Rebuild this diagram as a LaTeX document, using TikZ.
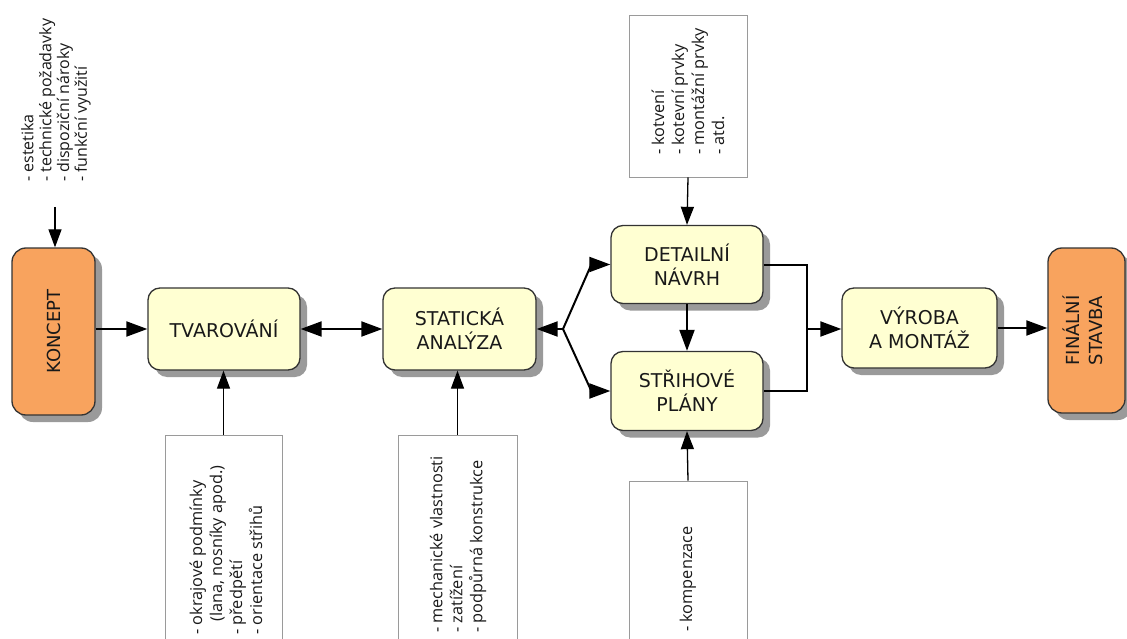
\documentclass[tikz,border=0pt]{standalone}
\usepackage{fontspec}
\setmainfont{DejaVu Sans}
\newfontfamily\notefont{Open Sans}
\usetikzlibrary{arrows.meta,shadows,calc}
\definecolor{boxyellow}{HTML}{FFFFD2}
\definecolor{boxorange}{HTML}{F8A35E}
\definecolor{boxline}{HTML}{333333}
\definecolor{noteline}{HTML}{9A9A9A}
\definecolor{shadowgray}{HTML}{9A9A9A}
\begin{document}
\begin{tikzpicture}[x=1pt,y=-1pt,
  process/.style={draw=boxline, line width=1.3pt, fill=boxyellow, rounded corners=12pt,
    minimum width=152pt, minimum height=82pt, align=center, inner sep=0pt,
    font=\fontsize{19}{24}\selectfont, text=black!90,
    general shadow={fill=shadowgray, shadow xshift=7pt, shadow yshift=-7pt}},
  terminal/.style={process, fill=boxorange, rounded corners=14pt, font=\fontsize{18}{23}\selectfont},
  notebox/.style={draw=noteline, line width=0.9pt, fill=white},
  notetext/.style={rotate=90, anchor=west, align=left, inner sep=0pt,
    font=\notefont\fontsize{16.3}{20}\selectfont, text=black!90},
  flow/.style={line width=2pt, -{Triangle[length=21pt,width=15pt]}},
  flowboth/.style={line width=2pt, {Triangle[length=21pt,width=15pt]}-{Triangle[length=21pt,width=15pt]}},
  feed/.style={line width=1.3pt, -{Triangle[length=18pt,width=13pt]}},
  bracket/.style={line width=2pt},
]
\useasboundingbox (0,0) rectangle (1127,639);
\clip (0,0) rectangle (1127,639);
\fill[white] (0,0) rectangle (1127,639);

% main boxes
\node[terminal, minimum width=83pt, minimum height=167pt] (koncept) at (53.5,331.5) {\rotatebox{90}{KONCEPT}};
\node[process] (tvar) at (224,329) {TVAROVÁNÍ};
\node[process, minimum width=153pt] (stat) at (459.5,329) {STATICKÁ\\ANALÝZA};
\node[process, minimum height=78pt] (detail) at (687,264.5) {DETAILNÍ\\NÁVRH};
\node[process, minimum height=79pt] (strih) at (687,391) {STŘIHOVÉ\\PLÁNY};
\node[process, minimum width=155pt, minimum height=80pt] (vyroba) at (919.5,328) {VÝROBA\\A MONTÁŽ};
\node[terminal, minimum width=77pt, minimum height=165pt] (final) at (1086.5,330.5)
  {\rotatebox{90}{\begin{tabular}{@{}c@{}}FINÁLNÍ\\STAVBA\end{tabular}}};

% note boxes
\node[notebox, minimum width=117pt, minimum height=225pt] (n1) at (223.5,547.5) {};
\node[notetext] (n1t) at (226,635) {- okrajové podmínky\\\hspace*{0.8em}(lana, nosníky apod.)\\- předpětí\\- orientace střihů};
\node[notebox, minimum width=119pt, minimum height=225pt] (n2) at (457.5,547.5) {};
\node[notetext] (n2t) at (458,633) {- mechanické vlastnosti\\- zatížení\\- podpůrná konstrukce};
\node[notebox, minimum width=118pt, minimum height=162pt] (n3) at (688,96) {};
\node[notetext] (n3t) at (688,155) {- kotvení\\- kotevní prvky\\- montážní prvky\\- atd.};
\node[notebox, minimum width=118pt, minimum height=179pt] (n4) at (688,570.5) {};
\node[notetext] (n4t) at (688,632) {- kompenzace};
\node[notetext, font=\notefont\fontsize{16}{17.8}\selectfont] (n0) at (56,182)
  {- estetika\\- technické požadavky\\- dispoziční nároky\\- funkční využití};

% connectors
\coordinate (c0) at (55,207);
\draw[feed] (c0) -- (c0 |- koncept.north);
\draw[flow] (koncept.east |- tvar) -- (tvar.west);
\draw[flowboth] (tvar.east) -- (stat.west);
\draw[feed] (n1.north) -- (n1.north |- tvar.south);
\draw[feed] (n2.north) -- (n2.north |- stat.south);

\coordinate (j) at (563,329);
\coordinate (ja) at ($(detail.west)+(-19,0)$);
\coordinate (jb) at ($(strih.west)+(-19,0)$);
\draw[flow] (j) -- (stat.east);
\draw[flow] (j) -- (ja) -- (detail.west);
\draw[flow] (j) -- (jb) -- (strih.west);
\draw[flow] (detail.south) -- (strih.north);
\draw[feed] (n3.south) -- (detail.north);
\draw[feed] (n4.north) -- (strih.south);

\coordinate (r) at (807,329);
\draw[bracket] (detail.east) -| (r) |- (strih.east);
\draw[flow] (r) -- (r -| vyroba.west);
\draw[flow] (vyroba.east) -- (vyroba.east -| final.west);
\end{tikzpicture}
\end{document}
